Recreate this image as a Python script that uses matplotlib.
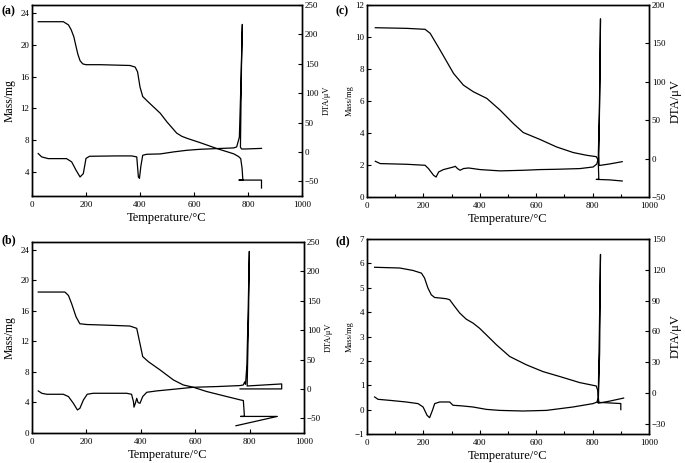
import matplotlib
matplotlib.use("Agg")
import matplotlib.pyplot as plt
from matplotlib.ticker import MultipleLocator

plt.rcParams['font.family'] = ['Liberation Serif', 'DejaVu Serif']
plt.rcParams['mathtext.fontset'] = 'stix'

# ---------------- data ----------------
# panel (a)
tg_a_T = [23, 116, 135, 145, 155, 163, 170, 178, 188, 200, 252, 363, 382, 391, 400, 410, 431, 475, 500, 536, 555,
          574, 623, 685, 747, 765, 773, 778, 781, 767, 850, 850]
tg_a_m = [22.9, 22.9, 22.5, 21.9, 21.0, 19.8, 18.8, 18.0, 17.6, 17.5, 17.5, 17.4, 17.2, 16.6, 14.7, 13.5, 12.8, 11.4,
          10.3, 8.9, 8.5, 8.25, 7.7, 6.96, 6.3, 5.96, 5.7, 4.5, 3.0, 3.0, 3.0, 2.0]
dta_a_T = [23, 36, 60, 128, 147, 163, 178, 190, 200, 213, 314, 370, 388, 394, 398, 403, 410, 425, 475, 524, 574, 623,
           685, 747, 758, 768, 774, 779, 776, 772, 776, 790, 850]
dta_a_v = [-2.8, -8.5, -11.4, -11.4, -17, -31, -42.6, -37, -11, -7.4, -6.8, -6.8, -8.5, -42.6, -45, -25, -5.7, -4,
           -3.4, 0, 2.8, 4.5, 5.7, 6.8, 8.5, 25, 120, 217, 150, 8, 5, 5, 6]

# panel (b)
tg_b_T = [23, 121, 134, 146, 162, 176, 201, 287, 360, 385, 397, 407, 428, 471, 520, 556, 593, 642, 716, 765, 777,
          781, 767, 902, 750]
tg_b_m = [18.45, 18.45, 18.0, 16.9, 15.2, 14.3, 14.2, 14.1, 14.0, 13.7, 11.7, 10.0, 9.33, 8.25, 6.94, 6.29, 5.99,
          5.43, 4.77, 4.34, 4.25, 2.17, 2.17, 2.17, 0.95]
dta_b_T = [23, 36, 54, 115, 134, 152, 167, 176, 189, 203, 225, 348, 366, 373, 375, 380, 385, 390, 397, 407, 422,
           458, 520, 593, 679, 765, 777, 782, 785, 790, 795, 799, 796, 791, 918, 918, 765]
dta_b_v = [-3.4, -7.4, -9.1, -9.1, -13, -24.4, -35.8, -33, -18.8, -9.1, -7.4, -7.4, -9.1, -21.6, -31, -24.4, -16,
           -23.3, -24.4, -13, -5.7, -3.4, -0.6, 2.8, 4.0, 5.7, 6.8, 12, 8, 40, 140, 234, 120, 5, 8.5, 0, 0]

# panel (c)
tg_c_T = [29.5, 141, 206, 224, 259, 307, 342, 377, 425, 472, 519, 554, 613, 672, 731, 778, 813, 820, 822, 813,
          860, 905]
tg_c_m = [10.58, 10.54, 10.48, 10.23, 9.19, 7.72, 6.99, 6.58, 6.16, 5.43, 4.59, 4.03, 3.6, 3.13, 2.78, 2.61, 2.52,
          2.3, 1.1, 1.1, 1.07, 1.0]
dta_c_T = [29.5, 47, 141, 206, 218, 236, 245, 254, 271, 307, 313, 321, 330, 342, 360, 401, 472, 554, 613, 672, 755,
           802, 815, 820, 824, 828, 826, 822, 823, 860, 905]
dta_c_v = [-3.5, -6.5, -7.4, -8.7, -13, -21.7, -24, -17.4, -14.3, -10.9, -10, -13, -15.2, -13, -12.2, -14.3, -16,
           -15.2, -14.3, -13.9, -13, -10.9, -7, 0, 60, 182, 100, 5, -9, -7, -4]

# panel (d)
tg_d_T = [27, 116, 163, 193, 204, 216, 228, 240, 258, 281, 293, 311, 329, 352, 376, 399, 423, 459, 506, 565, 624,
          683, 754, 813, 818, 822, 818, 900, 900]
tg_d_m = [5.84, 5.81, 5.71, 5.6, 5.4, 4.99, 4.71, 4.6, 4.58, 4.55, 4.51, 4.23, 3.96, 3.71, 3.55, 3.34, 3.07, 2.66,
          2.18, 1.84, 1.56, 1.36, 1.11, 0.97, 0.8, 0.3, 0.3, 0.25, 0.0]
dta_d_T = [27, 39, 80, 139, 181, 199, 213, 222, 232, 240, 258, 293, 305, 340, 376, 423, 470, 553, 636, 730, 801,
           815, 820, 824, 828, 825, 820, 860, 910]
dta_d_v = [-3.9, -6.2, -7.2, -8.8, -10.4, -13.7, -21.8, -24.1, -17, -10.4, -8.8, -8.8, -12, -12.7, -13.7, -16, -17,
           -17.6, -17, -13.7, -10.4, -9, -5, 60, 135, 40, -10, -8, -5]

panel_labels = ['(a)', '(b)', '(c)', '(d)']
x_label = 'Temperature/°C'
mass_label = 'Mass/mg'
dta_label = 'DTA/μV'

# ---------------- figure ----------------
fig = plt.figure(figsize=(6.85, 4.63), dpi=100)
W, H = 685.0, 463.0


def rect(l, t, r, b):
    return [l / W, 1 - b / H, (r - l) / W, (b - t) / H]


def panel(pos, T1, m, T2, d, mlim, mstep, dlim, dticks, mfs, dfs, minor, mpad, dpad):
    ax = fig.add_axes(rect(*pos))
    ax2 = ax.twinx()
    ax.plot(T1, m, color='black', lw=0.9)
    ax2.plot(T2, d, color='black', lw=0.9)
    ax.set_xlim(0, 1000)
    ax.set_ylim(*mlim)
    ax2.set_ylim(*dlim)
    ax.xaxis.set_major_locator(MultipleLocator(200))
    if minor:
        ax.xaxis.set_minor_locator(MultipleLocator(100))
    ax.yaxis.set_major_locator(MultipleLocator(mstep))
    ax2.set_yticks(dticks)
    for a in (ax, ax2):
        for s in a.spines.values():
            s.set_linewidth(1.0)
        a.tick_params(which='both', direction='in', labelsize=6.5, width=0.8, pad=2)
        a.tick_params(which='major', length=3)
        a.tick_params(which='minor', length=2)
    ax.tick_params(axis='x', pad=3.5)
    ax.tick_params(axis='y', right=False)
    ax.set_xlabel(x_label, fontsize=9, labelpad=2)
    ax.set_ylabel(mass_label, fontsize=mfs, labelpad=mpad)
    ax2.set_ylabel(dta_label, fontsize=dfs, labelpad=dpad)
    return ax


panel((32, 5, 302, 196), tg_a_T, tg_a_m, dta_a_T, dta_a_v, (1, 25), 4, (-75, 250),
      [-50, 0, 50, 100, 150, 200, 250], 8.5, 6, False, 3, 3)
panel((32, 242, 304, 433), tg_b_T, tg_b_m, dta_b_T, dta_b_v, (0, 25), 4, (-75, 250),
      [-50, 0, 50, 100, 150, 200, 250], 8.5, 6, False, 3, 3)
panel((367, 5, 649, 197), tg_c_T, tg_c_m, dta_c_T, dta_c_v, (0, 12), 2, (-50, 200),
      [-50, 0, 50, 100, 150, 200], 6, 9, True, 1, 3)
panel((367, 239, 649, 434), tg_d_T, tg_d_m, dta_d_T, dta_d_v, (-1, 7), 1, (-40, 150),
      [-30, 0, 30, 60, 90, 120, 150], 6, 9, True, 1, 3)

for lab, (x, y) in zip(panel_labels, [(1, 11), (1, 240), (335, 11), (335, 241)]):
    fig.text(x / W, 1 - y / H, lab, fontsize=8.5, fontweight='bold', ha='left', va='center')

fig.savefig('out.png', dpi=100)
